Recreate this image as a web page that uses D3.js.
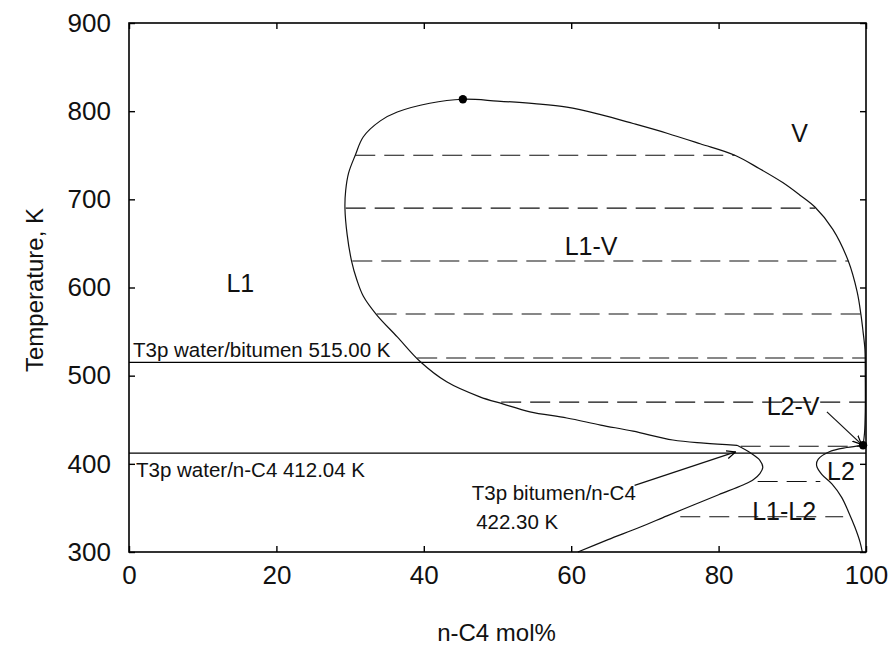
<!DOCTYPE html>
<html>
<head>
<meta charset="utf-8">
<script src="https://cdn.jsdelivr.net/npm/d3@7"></script>
<style>
  body { margin: 0; background: #fff; }
  text { font-family: Arial, "Liberation Sans", sans-serif; fill: #111; }
</style>
</head>
<body>
<div id="chart"></div>
<script>
// ticks
var xTicks = [0, 20, 40, 60, 80, 100];
var yTicks = [300, 400, 500, 600, 700, 800, 900];

// L1-V envelope: bubble branch from the 3-phase point, over the top, dew branch down to n-C4 side
var envelope = [
  [82.5, 421], [78, 423.5], [73.8, 427], [68.4, 437], [64, 444], [59.4, 452], [54.4, 459],
  [50.7, 468], [47.6, 476], [43.1, 493], [39.5, 516], [36.4, 544], [33.6, 569], [31.8, 590],
  [30.9, 609], [30.2, 630], [29.6, 660], [29.3, 690], [29.4, 710], [29.8, 730], [30.7, 750],
  [31.8, 771], [34.1, 789], [36.4, 799], [40.8, 809], [45.3, 813.5], [50, 811.5], [55, 808.5],
  [59.4, 804.5], [64, 796], [68.4, 786], [73, 775], [77.5, 763], [82.2, 750], [85.5, 735],
  [88.7, 719], [91, 705], [93.1, 691], [95.5, 666], [97.6, 630], [98.8, 595], [99.3, 570],
  [99.6, 550], [99.85, 530], [99.9, 500], [99.9, 460], [99.8, 435], [99.6, 421]
];

// L1 side of the L1-L2 region (bulge below the 3-phase point)
var l1Branch = [
  [82.5, 421], [84.3, 412.5], [85.6, 404], [86, 396], [85.6, 389], [84.7, 382], [83.3, 376],
  [80, 365], [76.5, 353], [73, 341], [69.3, 328], [65, 314], [60.9, 300]
];

// L2 side, from the n-C4 critical point down
var l2Branch = [
  [99.6, 421], [97.4, 418.5], [95.1, 414], [93.5, 405], [93.3, 398], [94, 388], [95.4, 377],
  [96.7, 362], [97.6, 346], [98.5, 328], [99.2, 311], [99.5, 300]
];

// tie lines: temperature, left x, right x
var tieT = [750, 690, 630, 570, 520, 470, 420, 380, 340];
var tieX1 = [30.7, 29.4, 30.3, 33.6, 39.1, 50.5, 83, 85.3, 74.8];
var tieX2 = [82.2, 93.1, 97.6, 99.3, 100, 100, 99.6, 93.8, 96.9];

// three-phase lines
var t3pT = [515.00, 412.04];
var t3pText = ["T3p water/bitumen 515.00 K", "T3p water/n-C4 412.04 K"];

var critPoints = [[45.3, 813.5], [99.6, 421]];

var regionNames = ["L1", "V", "L1-V", "L2-V", "L2", "L1-L2"];
var regionPos = [[15.1, 595], [91.0, 765], [62.7, 637], [90.1, 455], [96.6, 382], [88.9, 336]];

var arrows = [
  [[94.7, 459], [99.4, 422]],
  [[68.6, 375.5], [82.3, 413.6]]
];

var W = 893, H = 656;
var margin = {top: 23, right: 27, bottom: 104, left: 129};
var width = W - margin.left - margin.right,
    height = H - margin.top - margin.bottom;

var svg = d3.select("#chart").append("svg")
    .attr("width", W)
    .attr("height", H);

var defs = svg.append("defs");
defs.append("marker")
    .attr("id", "arr")
    .attr("viewBox", "0 -5 10 10")
    .attr("refX", 9).attr("refY", 0)
    .attr("markerWidth", 10).attr("markerHeight", 10)
    .attr("markerUnits", "userSpaceOnUse")
    .attr("orient", "auto")
  .append("path")
    .attr("d", "M0,-4L9,0L0,4")
    .attr("fill", "none")
    .attr("stroke", "#000")
    .attr("stroke-width", 1.2);

var g = svg.append("g")
    .attr("transform", "translate(" + margin.left + "," + margin.top + ")");

var x = d3.scaleLinear().domain([0, 100]).range([0, width]);
var y = d3.scaleLinear().domain([300, 900]).range([height, 0]);

var line = d3.line()
    .x(function(d) { return x(d[0]); })
    .y(function(d) { return y(d[1]); })
    .curve(d3.curveCatmullRom.alpha(0.5));

// tie lines
g.append("g").selectAll("line")
    .data(tieT)
  .enter().append("line")
    .attr("x1", function(d, i) { return x(tieX1[i]); })
    .attr("x2", function(d, i) { return x(tieX2[i]); })
    .attr("y1", function(d) { return y(d); })
    .attr("y2", function(d) { return y(d); })
    .attr("stroke", "#111")
    .attr("stroke-width", 1.1)
    .attr("stroke-dasharray", "20,9");

// three-phase lines
g.append("g").selectAll("line")
    .data(t3pT)
  .enter().append("line")
    .attr("x1", 0).attr("x2", width)
    .attr("y1", function(d) { return y(d); })
    .attr("y2", function(d) { return y(d); })
    .attr("stroke", "#000")
    .attr("stroke-width", 1.3);

// phase boundaries
[envelope, l1Branch, l2Branch].forEach(function(c) {
  g.append("path")
      .datum(c)
      .attr("d", line)
      .attr("fill", "none")
      .attr("stroke", "#111")
      .attr("stroke-width", 1.2);
});

// critical points
g.selectAll(".crit")
    .data(critPoints)
  .enter().append("circle")
    .attr("class", "crit")
    .attr("cx", function(d) { return x(d[0]); })
    .attr("cy", function(d) { return y(d[1]); })
    .attr("r", 4.2)
    .attr("fill", "#000");

// arrows
g.selectAll(".arrow")
    .data(arrows)
  .enter().append("line")
    .attr("class", "arrow")
    .attr("x1", function(d) { return x(d[0][0]); })
    .attr("y1", function(d) { return y(d[0][1]); })
    .attr("x2", function(d) { return x(d[1][0]); })
    .attr("y2", function(d) { return y(d[1][1]); })
    .attr("stroke", "#111")
    .attr("stroke-width", 1.2)
    .attr("marker-end", "url(#arr)");

// frame
g.append("rect")
    .attr("width", width).attr("height", height)
    .attr("fill", "none")
    .attr("stroke", "#000")
    .attr("stroke-width", 1.6);

// axes with inward ticks
g.append("g")
    .attr("transform", "translate(0," + height + ")")
    .call(d3.axisBottom(x).tickValues(xTicks).tickSizeInner(-6).tickSizeOuter(0).tickPadding(14))
    .call(function(a) {
      a.select(".domain").remove();
      a.selectAll("text").style("font-size", "26px").attr("fill", "#111");
    });
g.append("g")
    .call(d3.axisTop(x).tickValues(xTicks).tickSizeInner(-6).tickSizeOuter(0).tickFormat(""))
    .call(function(a) { a.select(".domain").remove(); });
g.append("g")
    .call(d3.axisLeft(y).tickValues(yTicks).tickSizeInner(-6).tickSizeOuter(0).tickPadding(18))
    .call(function(a) {
      a.select(".domain").remove();
      a.selectAll("text").style("font-size", "26px").attr("fill", "#111");
    });
g.append("g")
    .attr("transform", "translate(" + width + ",0)")
    .call(d3.axisRight(y).tickValues(yTicks).tickSizeInner(-6).tickSizeOuter(0).tickFormat(""))
    .call(function(a) { a.select(".domain").remove(); });
g.selectAll(".tick line").attr("stroke-width", 1.4);

// axis titles
svg.append("text")
    .attr("x", margin.left + width / 2 - 1)
    .attr("y", 641)
    .attr("text-anchor", "middle")
    .style("font-size", "24px")
    .text("n-C4 mol%");
svg.append("text")
    .attr("transform", "translate(43,290) rotate(-90)")
    .attr("text-anchor", "middle")
    .style("font-size", "24px")
    .text("Temperature, K");

// three-phase labels
g.append("text")
    .attr("x", 4).attr("y", y(t3pT[0]) - 5)
    .style("font-size", "20.5px")
    .text(t3pText[0]);
g.append("text")
    .attr("x", 7).attr("y", y(t3pT[1]) + 24)
    .style("font-size", "20.5px")
    .text(t3pText[1]);
g.append("text")
    .attr("x", x(46.5)).attr("y", y(359))
    .style("font-size", "20.5px")
    .text("T3p bitumen/n-C4");
g.append("text")
    .attr("x", x(47.1)).attr("y", y(326))
    .style("font-size", "20.5px")
    .text("422.30 K");

// region labels
g.selectAll(".region")
    .data(regionNames)
  .enter().append("text")
    .attr("class", "region")
    .attr("x", function(d, i) { return x(regionPos[i][0]); })
    .attr("y", function(d, i) { return y(regionPos[i][1]); })
    .attr("text-anchor", "middle")
    .style("font-size", "25px")
    .text(function(d) { return d; });
</script>
</body>
</html>
